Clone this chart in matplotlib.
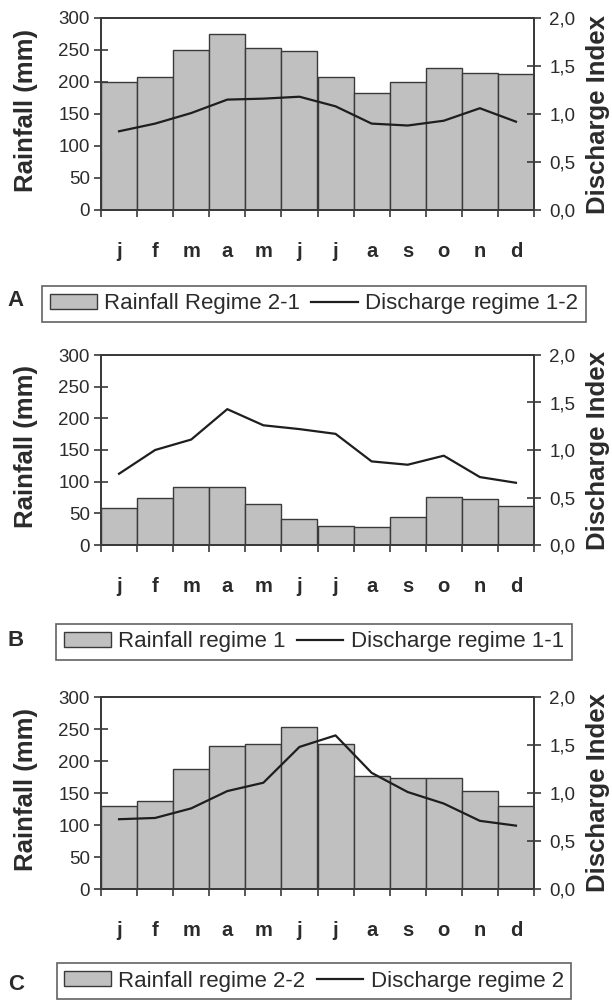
import matplotlib
matplotlib.use('Agg')
from matplotlib import pyplot as plt
from matplotlib.ticker import FuncFormatter
import numpy as np

# %% data
MONTHS = ['j', 'f', 'm', 'a', 'm', 'j', 'j', 'a', 's', 'o', 'n', 'd']

rain_A = [200, 208, 250, 275, 253, 249, 208, 183, 200, 222, 214, 212]
disch_A = [0.82, 0.90, 1.01, 1.15, 1.16, 1.18, 1.08, 0.90, 0.88, 0.93,
           1.06, 0.92]

rain_B = [58, 74, 91, 91, 64, 41, 30, 28, 45, 76, 72, 62]
disch_B = [0.75, 1.00, 1.11, 1.43, 1.26, 1.22, 1.17, 0.88, 0.845, 0.94,
           0.715, 0.655]

rain_C = [129, 137, 188, 223, 227, 253, 227, 176, 174, 174, 153, 130]
disch_C = [0.727, 0.74, 0.84, 1.02, 1.107, 1.48, 1.60, 1.21, 1.01, 0.89,
           0.71, 0.66]

panel_letters = ['A', 'B', 'C']
rain_names = ['Rainfall Regime 2-1', 'Rainfall regime 1', 'Rainfall regime 2-2']
disch_names = ['Discharge regime 1-2', 'Discharge regime 1-1',
               'Discharge regime 2']

# %% style constants
FONT = ['Liberation Sans', 'DejaVu Sans']
plt.rcParams['font.family'] = FONT
TXT = '#2b2b2b'
BAR_FC = '#c0c0c0'
EDGE = '#3a3a3a'

W, H = 612, 1000
fig = plt.figure(figsize=(W / 100, H / 100), dpi=100)

# axes boxes in pixels: (top, bottom)
boxes = [(18, 210), (355, 545), (697, 889)]
legend_y = [304, 642, 981]
letter_y = [300, 640, 985]
X0, X1 = 101, 534

rains = [rain_A, rain_B, rain_C]
dischs = [disch_A, disch_B, disch_C]

x = np.arange(len(MONTHS))

for i in range(3):
    top, bot = boxes[i]
    ax = fig.add_axes([X0 / W, 1 - bot / H, (X1 - X0) / W, (bot - top) / H])
    bars = ax.bar(x, rains[i], width=1.0, color=BAR_FC, edgecolor=EDGE,
                  linewidth=1.0, zorder=2, label=rain_names[i])
    ax.set_xlim(-0.5, 11.5)
    ax.set_ylim(0, 300)
    ax.set_yticks(np.arange(0, 301, 50))
    ax.set_xticks(np.arange(-0.5, 12, 1.0))
    ax.set_xticklabels([])
    ax.set_xticks(x, minor=True)
    ax.set_xticklabels(MONTHS, minor=True, fontsize=14.5, fontweight='bold',
                       color=TXT)
    ax.tick_params(axis='x', which='minor', length=0, pad=23)
    ax.tick_params(axis='x', which='major', direction='inout', length=10,
                   width=1.2, color=EDGE)
    ax.tick_params(axis='y', direction='inout', length=10, width=1.2,
                   color=EDGE, labelsize=13.5, labelcolor=TXT, pad=3)
    for s in ax.spines.values():
        s.set_color(EDGE)
        s.set_linewidth(1.3)
    ax.set_ylabel('Rainfall (mm)', fontsize=18.5, fontweight='bold',
                  color=TXT)
    ax.yaxis.set_label_coords((38 - X0) / (X1 - X0), 0.52)

    ax2 = ax.twinx()
    ln, = ax2.plot(x, dischs[i], color='#1e1e1e', linewidth=1.6, zorder=3,
                   label=disch_names[i])
    ax2.set_ylim(0, 2)
    ax2.set_yticks(np.arange(0, 2.01, 0.5))
    ax2.yaxis.set_major_formatter(
        FuncFormatter(lambda v, p: f'{v:.1f}'.replace('.', ',')))
    ax2.tick_params(axis='y', direction='inout', length=10, width=1.2,
                    color=EDGE, labelsize=13.5, labelcolor=TXT, pad=6)
    for s in ax2.spines.values():
        s.set_color(EDGE)
        s.set_linewidth(1.3)
    ax2.set_ylabel('Discharge Index', fontsize=18.5, fontweight='bold',
                   color=TXT, rotation=90)
    ax2.yaxis.set_label_coords((586 - X0) / (X1 - X0), 0.5)

    leg = fig.legend([bars, ln], [rain_names[i], disch_names[i]],
                     loc='center', bbox_to_anchor=(314 / W, 1 - legend_y[i] / H),
                     ncol=2, fontsize=16, frameon=True, fancybox=False,
                     handlelength=2.1, handletextpad=0.33, columnspacing=0.5,
                     borderpad=0.35, handleheight=0.65, borderaxespad=0)
    leg.get_frame().set_edgecolor(EDGE)
    leg.get_frame().set_linewidth(1.2)
    for t in leg.get_texts():
        t.set_color(TXT)

    fig.text(16 / W, 1 - letter_y[i] / H, panel_letters[i], fontsize=16,
             fontweight='bold', color=TXT, ha='center', va='center')

fig.savefig('out.png', dpi=100, facecolor='white')
